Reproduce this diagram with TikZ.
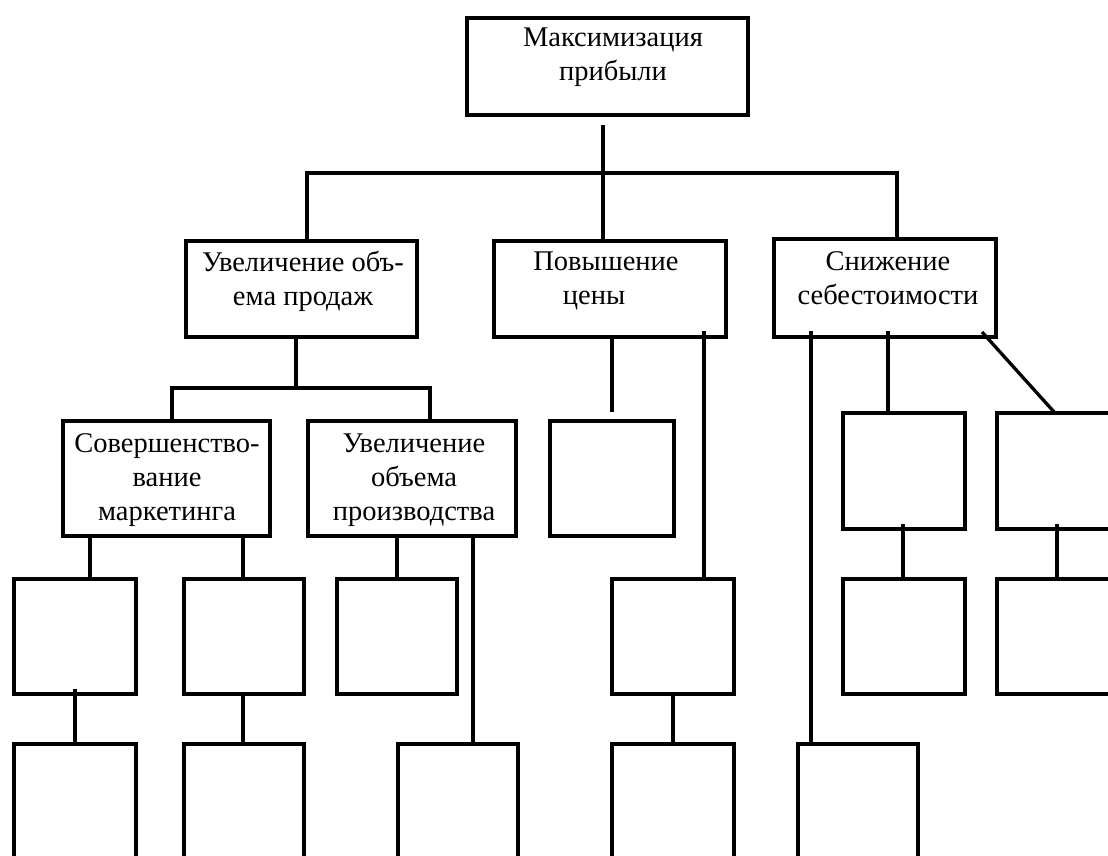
\documentclass[tikz,border=0pt]{standalone}
\usepackage{fontspec}
\setmainfont{Liberation Serif}
\newcommand{\boxfont}{\fontsize{28.5}{34}\selectfont}
\newcommand{\topstrut}{\vrule height 22pt depth 0pt width 0pt}
\begin{document}
\begin{tikzpicture}[x=1pt,y=-1pt,
  box/.style={draw, line width=3.4pt, inner sep=0pt, outer sep=0pt, anchor=north west},
  txt/.style={align=center, font=\boxfont, inner sep=0pt, outer sep=0pt, anchor=north},
  conn/.style={line width=3.3pt}]
\useasboundingbox (0,0) rectangle (1108,856);
\clip (0,0) rectangle (1108,856);
\fill[white] (0,0) rectangle (1108,856);
% level 1
\node[box, line width=3.8pt, minimum width=281, minimum height=97] (top) at (467,18) {};
% level 2
\node[box, minimum width=231, minimum height=96] (A) at (186,241) {};
\node[box, minimum width=232, minimum height=96] (B) at (494,241) {};
\node[box, minimum width=222, minimum height=98] (C) at (774,239) {};
% level 3
\node[box, minimum width=207, minimum height=115] (A1) at (63,421) {};
\node[box, minimum width=208, minimum height=115] (A2) at (308,421) {};
\node[box, minimum width=124, minimum height=115] (B1) at (550,421) {};
\node[box, minimum width=122, minimum height=116] (C2) at (843,413) {};
\node[box, minimum width=124, minimum height=116] (C3) at (997,413) {};
% level 4
\node[box, minimum width=122, minimum height=115] (r3a) at (14,579) {};
\node[box, minimum width=120, minimum height=115] (r3b) at (184,579) {};
\node[box, minimum width=120, minimum height=115] (r3c) at (337,579) {};
\node[box, minimum width=122, minimum height=115] (B2) at (612,579) {};
\node[box, minimum width=122, minimum height=115] (C2b) at (843,579) {};
\node[box, minimum width=124, minimum height=115] (C3b) at (997,579) {};
% level 5
\node[box, minimum width=122, minimum height=140] (r4a) at (14,744) {};
\node[box, minimum width=120, minimum height=140] (r4b) at (184,744) {};
\node[box, minimum width=120, minimum height=140] (r4c) at (398,744) {};
\node[box, minimum width=122, minimum height=140] (r4d) at (612,744) {};
\node[box, minimum width=120, minimum height=140] (r4e) at (798,744) {};
% texts
\node[txt] (ttop) at (613,25) {\topstrut Максимизация\\прибыли};
\node[txt] (tA) at (303,249) {\topstrut Увеличение объ-\\ема продаж};
\node[txt] (tB) at (606,248) {\topstrut Повышение\\цены\hspace*{24pt}};
\node[txt] (tC) at (888,248) {\topstrut Снижение\\себестоимости};
\node[txt] (tA1) at (167,430) {\topstrut Совершенство-\\вание\\маркетинга};
\node[txt] (tA2) at (414,430) {\topstrut Увеличение\\объема\\производства};
% free ends
\coordinate (t0) at (603,125);
\coordinate (barL) at (307,173);
\coordinate (barR) at (897,173);
\coordinate (sA) at (296,388);
\coordinate (barAL) at (172,388);
\coordinate (barAR) at (430,388);
\coordinate (s3a) at (75,689);
\coordinate (sB) at (612,412);
\coordinate (sB2) at (704,331);
\coordinate (sC1) at (811,331);
\coordinate (sC2) at (888,331);
\coordinate (sC3) at (982,332);
\coordinate (sC2b) at (903,524);
\coordinate (sC3b) at (1057,524);
% connectors
\draw[conn] (t0) -- (t0 |- B.north);
\draw[conn] (barL |- A.north) -- (barL) -- (barR) -- (barR |- C.north);
\draw[conn] (sA |- A.south) -- (sA);
\draw[conn] (barAL |- A1.north) -- (barAL) -- (barAR) -- (barAR |- A2.north);
\draw[conn] (90,0 |- A1.south) -- (90,0 |- r3a.north);
\draw[conn] (243,0 |- A1.south) -- (243,0 |- r3b.north);
\draw[conn] (397,0 |- A2.south) -- (397,0 |- r3c.north);
\draw[conn] (473,0 |- A2.south) -- (473,0 |- r4c.north);
\draw[conn] (s3a) -- (s3a |- r4a.north);
\draw[conn] (243,0 |- r3b.south) -- (243,0 |- r4b.north);
\draw[conn] (sB |- B.south) -- (sB);
\draw[conn] (sB2) -- (sB2 |- B2.north);
\draw[conn] (673,0 |- B2.south) -- (673,0 |- r4d.north);
\draw[conn] (sC1) -- (sC1 |- r4e.north);
\draw[conn] (sC2) -- (sC2 |- C2.north);
\draw[conn] (sC3) -- (1055,0 |- C3.north);
\draw[conn] (sC2b) -- (sC2b |- C2b.north);
\draw[conn] (sC3b) -- (sC3b |- C3b.north);
\end{tikzpicture}
\end{document}
